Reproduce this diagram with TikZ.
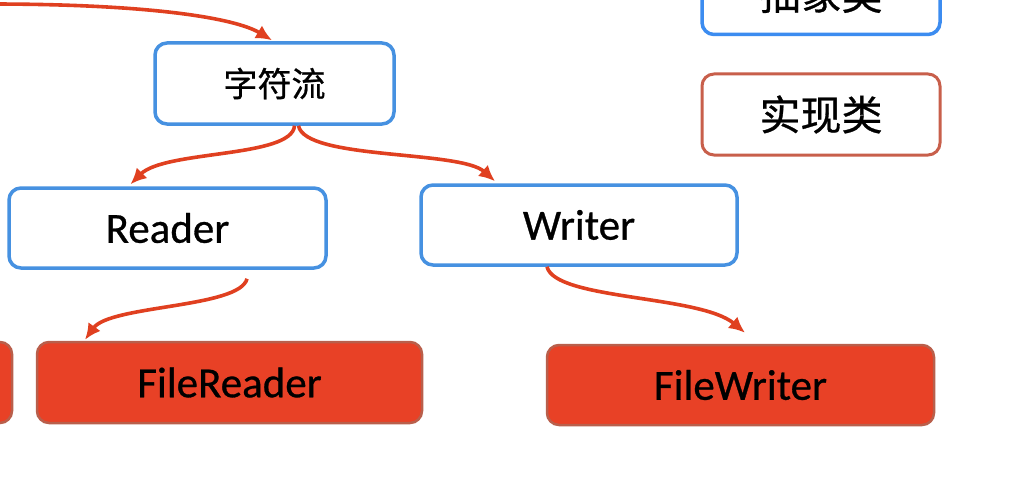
\documentclass[tikz,border=0pt]{standalone}
\usepackage{fontspec}
\setmainfont{Carlito}
\newfontfamily\cjk{Noto Sans CJK SC}
\usetikzlibrary{arrows.meta}
\definecolor{bblue}{RGB}{70,145,225}
\definecolor{bblue2}{RGB}{60,140,240}
\definecolor{rfill}{RGB}{232,65,38}
\definecolor{rborder}{RGB}{185,95,75}
\definecolor{iborder}{RGB}{200,95,75}
\definecolor{ared}{RGB}{224,64,32}
\tikzset{
  absbox/.style={draw=bblue, line width=3.5pt, rounded corners=12pt, fill=white, inner sep=0pt},
  implbox/.style={draw=rborder, line width=2.5pt, rounded corners=12pt, fill=rfill, inner sep=0pt},
  lat/.style={font=\fontsize{43}{50}\selectfont\addfontfeature{FakeBold=0.7}},
  cj/.style={font=\cjk\fontsize{#1}{#1}\selectfont\addfontfeature{FakeBold=0.7}},
  arr/.style={draw=ared, line width=3.6pt, -{Latex[length=16pt,width=15pt]}}
}
\begin{document}
\begin{tikzpicture}[x=1pt,y=-1pt]
\useasboundingbox (0,0) rectangle (1016,500);
\fill[white] (0,0) rectangle (1016,500);
\clip (0,0) rectangle (1016,500);
% legend
\node[absbox, draw=bblue2, minimum width=238pt, minimum height=81pt, cj=41] (abs) at (821,-6) {抽象类};
\node[absbox, draw=iborder, line width=3pt, minimum width=238pt, minimum height=81pt, cj=41] (impl) at (821,114.5) {实现类};
% tree
\node[absbox, minimum width=239pt, minimum height=81pt, cj=34] (zf) at (274.5,83.5) {字符流};
\node[absbox, lat, minimum width=317pt, minimum height=80pt] (reader) at (167.5,228) {Reader};
\node[absbox, lat, minimum width=316pt, minimum height=80pt] (writer) at (579,225) {Writer};
\node[implbox, lat, minimum width=385pt, minimum height=81pt] (freader) at (229.5,382.5) {FileReader};
\node[implbox, lat, minimum width=387pt, minimum height=80pt] (fwriter) at (740.5,385) {FileWriter};
\node[implbox, minimum width=100pt, minimum height=81pt] (left) at (-38,382.5) {};
% arrows
\coordinate (src) at (-10,4);
\draw[arr] (src) .. controls (150,4) and (235,18) .. ([xshift=-2.5pt,yshift=1pt]zf.north);
\draw[arr] ([xshift=20pt,yshift=0pt]zf.south) .. controls (292,158) and (165,150) .. ([xshift=-37pt,yshift=2pt]reader.north);
\draw[arr] ([xshift=24pt,yshift=0pt]zf.south) .. controls (305,160) and (460,150) .. ([xshift=-84pt,yshift=2pt]writer.north);
\draw[arr] ([xshift=79.5pt,yshift=-9pt]reader.south) .. controls (240,308) and (110,305) .. ([xshift=-144.5pt,yshift=1pt]freader.north);
\draw[arr] ([xshift=-32pt,yshift=0pt]writer.south) .. controls (555,300) and (700,295) .. ([xshift=4.5pt,yshift=11pt]fwriter.north);
\end{tikzpicture}
\end{document}
